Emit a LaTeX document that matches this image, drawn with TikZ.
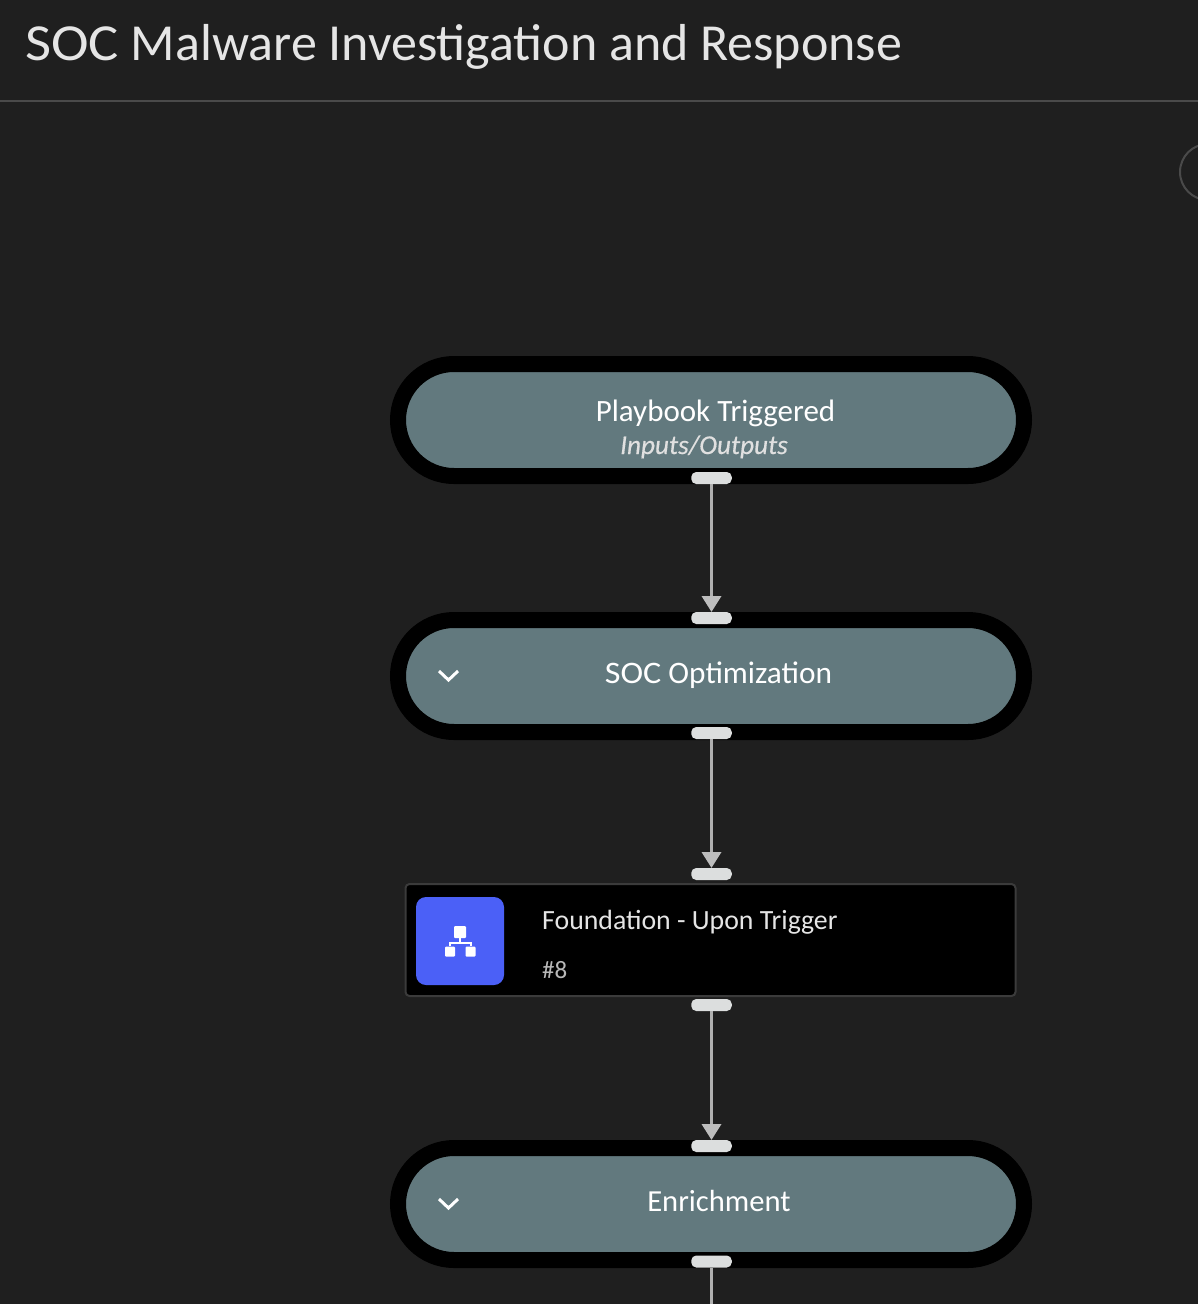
\documentclass[tikz,border=0pt]{standalone}
\usepackage{fontspec}
\setmainfont{Carlito}
\usetikzlibrary{arrows.meta}
\definecolor{mybg}{HTML}{1F1F1F}
\definecolor{mypill}{HTML}{62797E}
\definecolor{myrule}{HTML}{4A4A4A}
\definecolor{myport}{HTML}{DCDEDE}
\definecolor{myedgecol}{HTML}{B0B0B0}
\definecolor{mytip}{HTML}{BDBDBD}
\definecolor{myblue}{HTML}{4B60F7}
\newcommand{\mysoc}{{\addfontfeature{FakeStretch=1.09}SOC}}
\tikzset{%
  myedge/.style={-{Triangle[width=19pt,length=16pt,color=mytip]}, draw=myedgecol, line width=3.5pt},
  mypillnode/.style={draw=black, fill=mypill, line width=16pt, minimum width=626pt, minimum height=112pt, rounded corners=56pt, outer sep=0pt},
  myportnode/.style={fill=myport, minimum width=40.5pt, minimum height=12pt, inner sep=0pt, outer sep=0pt, rounded corners=5pt},
  mylabel/.style={text=white, inner sep=0pt, font=\fontsize{31}{31}\selectfont},
  mychevron/.style={draw=white, line width=3pt}
}

\begin{document}
\begin{tikzpicture}[x=1pt, y=-1pt]
  \useasboundingbox (0,0) rectangle (1198,1304);
  \fill [mybg] (0,0) rectangle (1198,1304);
  % header
  \node [anchor=base west, inner sep=0pt, text=white!90!black, font=\fontsize{52}{52}\selectfont] (title) at (25,60) {\mysoc{} Malware Investigation and Response};
  \coordinate (ruleL) at (0,101);
  \coordinate (ruleR) at (1198,101);
  \draw [myrule, line width=2pt] (ruleL) -- (ruleR);
  \node [circle, draw=myrule, line width=2pt, minimum size=56pt, inner sep=0pt] (zoomdial) at (1208,172) {};
  % phases
  \node [mypillnode] (trigger) at (711,420) {};
  \node [mypillnode] (optim) at (711,676) {};
  \node [mypillnode] (enrich) at (711,1204) {};
  \node [mylabel, anchor=base] (triggerL) at (715.5,421) {Playbook Triggered};
  \node [mylabel, anchor=base, text=white!88!black, font=\fontsize{27.2}{27}\selectfont\itshape\addfontfeature{FakeBold=0.4}] (triggerS) at (704,454) {Inputs/Outputs};
  \node [mylabel, anchor=base, font=\fontsize{31.3}{31}\selectfont] (optimL) at (718.5,683) {\mysoc{} Optimization};
  \node [mylabel, anchor=base, font=\fontsize{30.6}{31}\selectfont] (enrichL) at (719,1211) {Enrichment};
  \draw [mychevron] (439,671) -- (448.5,680) -- (458,671);
  \draw [mychevron] (439,1199) -- (448.5,1208) -- (458,1199);
  % task card
  \node [draw=myrule!80!black, fill=black, line width=2pt, rounded corners=4pt, minimum width=610pt, minimum height=112pt, outer sep=0pt] (task) at (710.5,940) {};
  \node [fill=myblue, rounded corners=10pt, minimum size=88pt, inner sep=0pt] (icon) at (460,941) {};
  \node [fill=white, minimum size=12pt, inner sep=0pt, rounded corners=1pt] (iconT) at (460,932) {};
  \node [fill=white, minimum size=10pt, inner sep=0pt, rounded corners=1pt] (iconL) at (450,951.5) {};
  \node [fill=white, minimum size=10pt, inner sep=0pt, rounded corners=1pt] (iconR) at (470.5,951.5) {};
  \coordinate (iconM) at (460,942.5);
  \draw [white, line width=2pt] (iconT.south) -- (iconM);
  \draw [white, line width=2pt] (iconL.north) |- (iconM) -| (iconR.north);
  \node [mylabel, anchor=base west, text=white!90!black, font=\fontsize{27.8}{28}\selectfont] (taskL) at (542,929) {Foundation - Upon Trigger};
  \node [mylabel, anchor=base west, text=white!72!black, font=\fontsize{25}{25}\selectfont] (taskN) at (542,978) {\#8};
  % ports
  \node [myportnode] (p1) at (711.5,478) {};
  \node [myportnode] (p2) at (711.5,618) {};
  \node [myportnode] (p3) at (711.5,733) {};
  \node [myportnode] (p4) at (711.5,874) {};
  \node [myportnode] (p5) at (711.5,1005) {};
  \node [myportnode] (p6) at (711.5,1146) {};
  \node [myportnode] (p7) at (711.5,1261.5) {};
  \coordinate (off) at (711.5,1310);
  % edges
  \draw [myedge] (p1) -- (p2);
  \draw [myedge] (p3) -- (p4);
  \draw [myedge] (p5) -- (p6);
  \draw [draw=myedgecol, line width=3.5pt] (p7) -- (off);
\end{tikzpicture}
\end{document}
